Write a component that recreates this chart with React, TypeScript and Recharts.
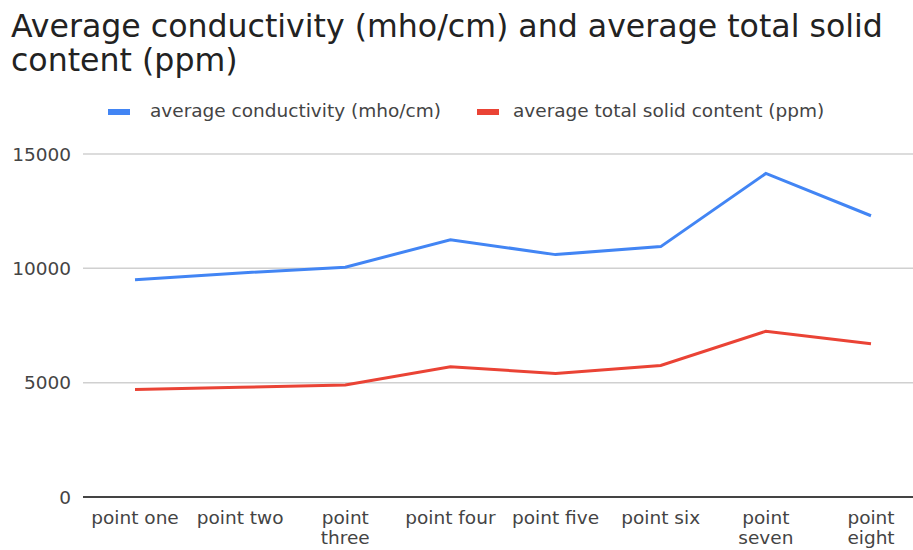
import { LineChart, Line, XAxis, YAxis, CartesianGrid } from "recharts";

const points = ["point one", "point two", "point three", "point four", "point five", "point six", "point seven", "point eight"];
const conductivity = [9500, 9800, 10050, 11250, 10600, 10950, 14150, 12300];
const solidContent = [4700, 4800, 4900, 5700, 5400, 5750, 7250, 6700];
const yTicks = [0, 5000, 10000, 15000];

const data = points.map((name, i) => ({
  name,
  conductivity: conductivity[i],
  solid: solidContent[i],
}));

const FONT = "'DejaVu Sans', sans-serif";
const BLUE = "#4285f4";
const RED = "#ea4335";

// labels longer than 10 characters wrap one word per line, like the original
function WrappedTick(props: any) {
  const { x, y, payload } = props;
  const label = String(payload.value);
  const lines = label.length > 10 ? label.split(" ") : [label];
  return (
    <text x={x} y={y} textAnchor="middle" fill="#444" style={{ fontSize: 18.5, fontFamily: FONT }}>
      {lines.map((l, i) => (
        <tspan key={i} x={x} dy={i === 0 ? 19 : 20}>
          {l}
        </tspan>
      ))}
    </text>
  );
}

export default function App() {
  return (
    <div style={{ position: "absolute", left: 0, top: 0, width: 913, height: 550, background: "#fff", fontFamily: FONT }}>
      <div style={{ position: "absolute", left: 11, top: 9, fontSize: 31.6, lineHeight: "34px", color: "#222", width: 900 }}>
        Average conductivity (mho/cm) and average total solid
        <br />
        content (ppm)
      </div>
      <div style={{ position: "absolute", left: 0, top: 101, fontSize: 18.5, lineHeight: "20px", color: "#444" }}>
        <div style={{ position: "absolute", left: 108, top: 8, width: 22, height: 6, background: BLUE }}></div>
        <div style={{ position: "absolute", left: 150, top: 0, whiteSpace: "nowrap" }}>average conductivity (mho/cm)</div>
        <div style={{ position: "absolute", left: 477, top: 8, width: 22, height: 6, background: RED }}></div>
        <div style={{ position: "absolute", left: 513, top: 0, whiteSpace: "nowrap" }}>average total solid content (ppm)</div>
      </div>
      <LineChart width={913} height={550} data={data} margin={{ top: 154, right: 0, bottom: 0, left: 0 }}>
        <CartesianGrid vertical={false} stroke="#d0d0d0" strokeWidth={1.5} />
        <XAxis
          dataKey="name"
          height={53}
          padding={{ left: 52, right: 42 }}
          tickLine={false}
          axisLine={{ stroke: "#444", strokeWidth: 2 }}
          interval={0}
          tick={<WrappedTick />}
        />
        <YAxis
          width={83}
          domain={[0, 15000]}
          ticks={yTicks}
          axisLine={false}
          tickLine={false}
          tickMargin={6}
          tick={{ fill: "#444", fontSize: 18.5, fontFamily: FONT }}
        />
        <Line dataKey="conductivity" stroke={BLUE} strokeWidth={3} dot={false} isAnimationActive={false} />
        <Line dataKey="solid" stroke={RED} strokeWidth={3} dot={false} isAnimationActive={false} />
      </LineChart>
    </div>
  );
}
